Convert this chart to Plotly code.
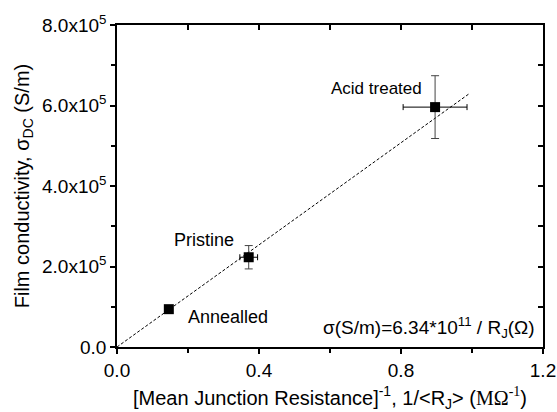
import plotly.graph_objects as go

# Data
labels = ["Annealled", "Pristine", "Acid treated"]
x_vals = [0.146, 0.371, 0.896]
y_vals = [0.94e5, 2.23e5, 5.96e5]
x_err = [0.0, 0.025, 0.09]
y_err = [0.0, 0.29e5, 0.78e5]

fit_x = [0.0, 0.99]
fit_y = [0.0, 6.28e5]

x_tickvals = [0.0, 0.4, 0.8, 1.2]
x_ticktext = ["0.0", "0.4", "0.8", "1.2"]
x_minor = [0.2, 0.6, 1.0]
y_tickvals = [0, 2e5, 4e5, 6e5, 8e5]
y_ticktext = ["0.0", "2.0x10<sup>5</sup>", "4.0x10<sup>5</sup>", "6.0x10<sup>5</sup>", "8.0x10<sup>5</sup>"]
y_minor = [1e5, 3e5, 5e5, 7e5]

FONT = "Liberation Sans, Arial, sans-serif"

fig = go.Figure()

fig.add_trace(go.Scatter(
    x=fit_x, y=fit_y, mode="lines",
    line=dict(color="black", width=1, dash="3px,2px"),
    showlegend=False, hoverinfo="skip"))

fig.add_trace(go.Scatter(
    x=x_vals, y=y_vals, mode="markers",
    marker=dict(symbol="square", size=10, color="black"),
    error_x=dict(type="data", array=x_err, color="black", thickness=1, width=3),
    error_y=dict(type="data", array=y_err, color="#444444", thickness=1, width=4),
    showlegend=False))

# invisible anchor trace for mirrored inside-tick axes
fig.add_trace(go.Scatter(
    x=x_vals, y=y_vals, xaxis="x2", yaxis="y2", mode="markers",
    marker=dict(opacity=0), showlegend=False, hoverinfo="skip"))

xrange = [0, 1.2]
yrange = [0, 8e5]

fig.update_layout(
    width=557, height=412,
    margin=dict(l=117, r=14, t=25, b=65),
    paper_bgcolor="white", plot_bgcolor="white",
    font=dict(family=FONT, size=19, color="black"),
    xaxis=dict(
        range=xrange, tickmode="array", tickvals=x_tickvals, ticktext=x_ticktext,
        ticks="outside", ticklen=5, tickwidth=1.5, tickcolor="black",
        minor=dict(tickvals=x_minor, ticks="outside", ticklen=4, tickwidth=1.5, tickcolor="black"),
        showline=True, linecolor="black", linewidth=1.5, mirror=True,
        showgrid=False, zeroline=False, automargin=False,
        tickfont=dict(size=19, color="black"),
        title=dict(
            text="[Mean Junction Resistance]<sup>-1</sup>, 1/&lt;R<sub>J</sub>&gt; "
                 "(<span style='font-family:Liberation Serif, Times New Roman, serif'>MΩ<sup>-1</sup></span>)",
            font=dict(size=20, color="black"), standoff=11),
    ),
    yaxis=dict(
        range=yrange, tickmode="array", tickvals=y_tickvals, ticktext=y_ticktext,
        ticks="outside", ticklen=5, tickwidth=1.5, tickcolor="black",
        minor=dict(tickvals=y_minor, ticks="outside", ticklen=4, tickwidth=1.5, tickcolor="black"),
        showline=True, linecolor="black", linewidth=1.5, mirror=True,
        showgrid=False, zeroline=False, automargin=False,
        tickfont=dict(size=19, color="black"),
        title=dict(text="Film conductivity, σ<sub>DC</sub> (S/m)", font=dict(size=20, color="black"), standoff=7),
    ),
    xaxis2=dict(
        range=xrange, overlaying="x", side="top", anchor="y2",
        tickmode="array", tickvals=x_tickvals, showticklabels=False,
        ticks="inside", ticklen=5, tickwidth=1.5, tickcolor="black",
        minor=dict(tickvals=x_minor, ticks="inside", ticklen=5, tickwidth=1.5, tickcolor="black"),
        showline=False, showgrid=False, zeroline=False, automargin=False,
    ),
    yaxis2=dict(
        range=yrange, overlaying="y", side="right", anchor="x2",
        tickmode="array", tickvals=y_tickvals, showticklabels=False,
        ticks="inside", ticklen=5, tickwidth=1.5, tickcolor="black",
        minor=dict(tickvals=y_minor, ticks="inside", ticklen=5, tickwidth=1.5, tickcolor="black"),
        showline=False, showgrid=False, zeroline=False, automargin=False,
    ),
)

# Point labels
fig.add_annotation(x=x_vals[0], y=y_vals[0], text=labels[0], showarrow=False,
                   xanchor="left", yanchor="middle", xshift=17, yshift=-8, font=dict(size=18))
fig.add_annotation(x=x_vals[1], y=y_vals[1], text=labels[1], showarrow=False,
                   xanchor="right", yanchor="middle", xshift=-13, yshift=17, font=dict(size=18))
fig.add_annotation(x=x_vals[2], y=y_vals[2], text=labels[2], showarrow=False,
                   xanchor="right", yanchor="middle", xshift=-11, yshift=19, font=dict(size=17))

fig.add_annotation(xref="paper", yref="paper", x=0.985, y=0.013, xanchor="right", yanchor="bottom",
                   showarrow=False, font=dict(size=19),
                   text="σ(S/m)=6.34*10<sup>11</sup> / R<sub>J</sub>(Ω)")

fig.write_html("out.html")
